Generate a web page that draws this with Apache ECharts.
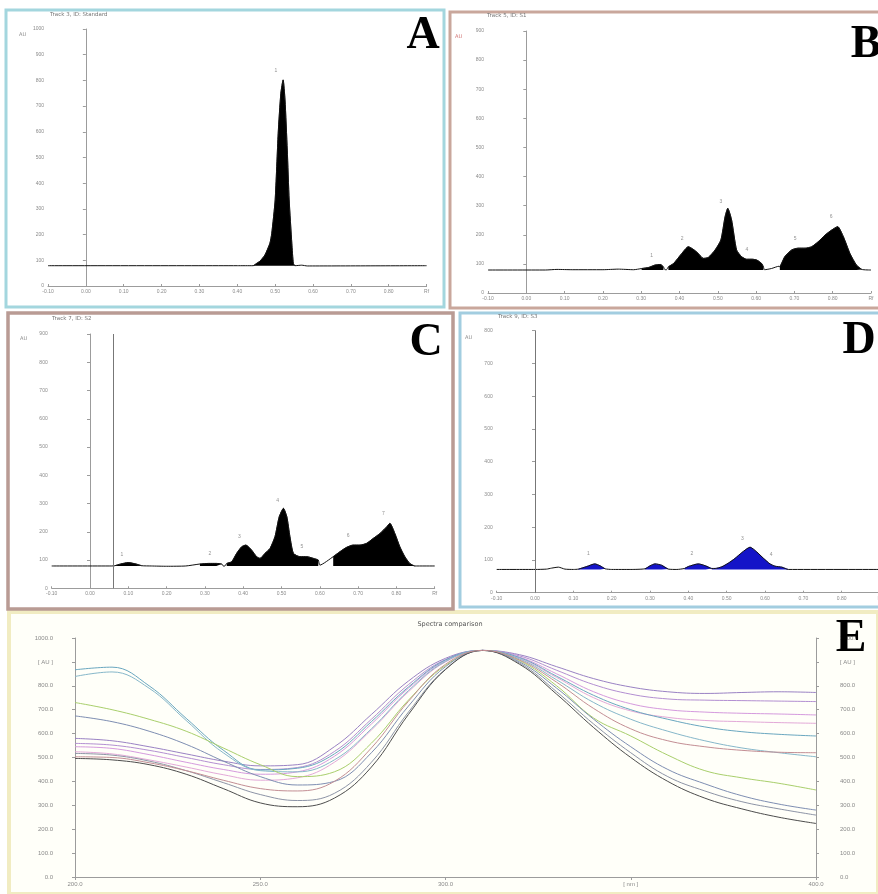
<!DOCTYPE html>
<html>
<head>
<meta charset="utf-8">
<script src="https://cdn.jsdelivr.net/npm/echarts@6/dist/echarts.min.js"></script>
<style>
  html, body { margin: 0; padding: 0; background: #fff; }
  #chart { width: 878px; height: 894px; }
</style>
</head>
<body>
<div id="chart"></div>
<script>
// ---- Densitogram tracks: [Rf, AU] ----
const trackA = [[-0.10,79],[0.40,79],[0.442,79],[0.451,88],[0.460,97],[0.473,121],[0.486,166],[0.491,205],[0.500,335],[0.508,594],[0.515,750],[0.521,802],[0.526,724],[0.532,529],[0.537,335],[0.544,166],[0.548,88],[0.552,79],[0.570,81],[0.585,78],[0.90,79]];
const segmentsA = [[0.442, 0.552]];
const peaksA = [[0.502, 838, '1']];

const trackB = [[-0.10,79],[0.05,79],[0.08,81],[0.12,80],[0.20,80],[0.24,82],[0.28,80],[0.301,84],[0.320,88],[0.336,96],[0.350,98],[0.358,90],[0.362,80],[0.366,80],[0.371,90],[0.385,102],[0.406,136],[0.423,159],[0.436,150],[0.449,136],[0.462,119],[0.475,122],[0.493,148],[0.508,182],[0.519,262],[0.526,291],[0.536,251],[0.549,148],[0.562,125],[0.575,116],[0.590,116],[0.602,113],[0.614,102],[0.619,90],[0.622,80],[0.640,84],[0.660,92],[0.662,90],[0.675,125],[0.693,148],[0.710,154],[0.728,154],[0.745,159],[0.762,176],[0.780,199],[0.797,216],[0.813,228],[0.828,193],[0.845,136],[0.862,96],[0.876,81],[0.90,79]];
const segmentsB = [[0.301, 0.358], [0.371, 0.619], [0.662, 0.876]];
const peaksB = [[0.327,127,'1'],[0.407,186,'2'],[0.508,315,'3'],[0.576,150,'4'],[0.702,186,'5'],[0.796,262,'6']];

const trackC = [[-0.10,79],[0.057,79],[0.065,80],[0.080,86],[0.100,91],[0.120,86],[0.135,80],[0.160,79],[0.200,78],[0.250,79],[0.287,86],[0.310,88],[0.330,88],[0.344,86],[0.348,79],[0.352,79],[0.357,88],[0.370,94],[0.383,124],[0.396,147],[0.407,153],[0.422,135],[0.435,112],[0.444,106],[0.457,124],[0.470,141],[0.483,183],[0.494,253],[0.505,283],[0.514,253],[0.522,183],[0.531,124],[0.548,112],[0.566,112],[0.583,106],[0.596,100],[0.600,82],[0.635,112],[0.653,130],[0.670,145],[0.687,153],[0.705,153],[0.722,159],[0.740,177],[0.757,194],[0.775,218],[0.783,230],[0.796,194],[0.809,147],[0.822,112],[0.835,88],[0.848,79],[0.90,79]];
const segmentsC = [[0.065, 0.135], [0.287, 0.344], [0.357, 0.596], [0.635, 0.848]];
const peaksC = [[0.083,118,'1'],[0.313,124,'2'],[0.390,183,'3'],[0.490,312,'4'],[0.553,147,'5'],[0.674,185,'6'],[0.766,265,'7']];

const trackD = [[-0.10,71],[0.000,71],[0.030,72],[0.043,75],[0.061,78],[0.078,72],[0.100,71],[0.113,72],[0.135,80],[0.156,88],[0.170,82],[0.183,73],[0.200,71],[0.250,71],[0.287,73],[0.300,82],[0.313,88],[0.330,84],[0.348,72],[0.370,71],[0.390,74],[0.400,80],[0.426,88],[0.445,82],[0.461,74],[0.470,74],[0.487,79],[0.504,90],[0.522,105],[0.539,122],[0.561,139],[0.578,125],[0.596,105],[0.613,88],[0.626,81],[0.644,78],[0.661,71],[0.90,71]];
const segmentsD = [[0.113, 0.183], [0.287, 0.348], [0.390, 0.461], [0.461, 0.661]];
const peaksD = [[0.139,120,'1'],[0.409,120,'2'],[0.541,166,'3'],[0.616,115,'4']];

// ---- Spectra comparison: AU over wavelength (nm) ----
const wavelengths = [200,210,220,230,240,250,260,270,280,290,300,310,320,330,340,350,360,370,380,390,400];
const spectrum1  = [580,570,545,515,485,465,470,545,680,820,915,948,930,880,830,795,775,768,772,775,772];
const spectrum2  = [559,552,530,500,470,450,458,525,660,805,910,948,925,865,805,765,745,740,738,736,734];
const spectrum3  = [545,538,512,480,450,430,440,505,640,790,905,948,920,850,775,725,700,690,685,682,678];
const spectrum4  = [524,515,490,460,428,405,415,480,615,775,900,948,915,835,750,695,668,655,650,646,643];
const spectrum5  = [867,878,800,664,531,448,455,515,650,795,908,948,918,840,760,700,660,628,608,597,590];
const spectrum6  = [839,858,790,655,520,445,440,490,620,780,902,948,912,825,730,660,610,570,540,520,503];
const spectrum7  = [730,700,660,610,540,470,420,440,560,740,885,948,905,800,665,590,510,445,415,392,364];
const spectrum8  = [674,650,610,555,485,420,385,400,520,715,880,948,900,790,660,545,450,390,340,305,280];
const spectrum9  = [517,510,485,445,395,345,320,350,480,690,870,948,895,775,640,520,420,360,315,285,259];
const spectrum10 = [496,490,470,430,370,310,294,330,460,680,868,948,890,765,625,500,400,330,285,250,224];
const spectrum11 = [503,500,478,445,405,370,360,400,540,735,890,948,908,815,705,620,570,545,530,522,520];
const spectra = [spectrum1,spectrum2,spectrum3,spectrum4,spectrum5,spectrum6,spectrum7,spectrum8,spectrum9,spectrum10,spectrum11];
const spectrumColors = ['#9a82c4','#b38fd2','#d59ade','#e3a9d8','#6aa7c0','#86b7ca','#a9cf6c','#7e8eb2','#8d94a6','#4d4d4d','#c38e94'];

const chart = echarts.init(document.getElementById('chart'), null, { renderer: 'canvas' });

const axisGray = '#9c9c9c';
const labelGray = '#8a8a8a';

const rfLabel = v => (v > 0.85 ? 'Rf' : (Math.abs(v) < 1e-9 ? '0.00' : v.toFixed(2)));

function rfAxis(gi) {
  return {
    gridIndex: gi, type: 'value', min: -0.1, max: 0.9, interval: 0.1,
    axisLine: { show: true, onZero: false, lineStyle: { color: axisGray, width: 1 } },
    axisTick: { show: true, length: 2, inside: true, lineStyle: { color: axisGray } },
    axisLabel: { fontSize: 5, color: labelGray, margin: 3, formatter: rfLabel },
    splitLine: { show: false }
  };
}
function auAxis(gi, max) {
  return {
    gridIndex: gi, type: 'value', min: 0, max: max, interval: 100,
    axisLine: { show: true, lineStyle: { color: axisGray, width: 1 } },
    axisTick: { show: true, length: 3, lineStyle: { color: axisGray } },
    axisLabel: { fontSize: 5, color: labelGray, margin: 4, formatter: v => String(v) },
    splitLine: { show: false }
  };
}

function trackSeries(gi, track, segments, peaks, fillColor, base, markX) {
  const out = [];
  const line = {
    type: 'line', xAxisIndex: gi, yAxisIndex: gi, data: track,
    symbol: 'none', smooth: 0.2, lineStyle: { color: '#111', width: 1 }, z: 4, silent: true
  };
  if (markX) {
    line.markLine = {
      symbol: 'none', silent: true, label: { show: false },
      lineStyle: { color: '#777', width: 1, type: 'solid' },
      data: markX.map(v => ({ xAxis: v }))
    };
  }
  out.push(line);
  segments.forEach(([a, b]) => {
    out.push({
      type: 'line', xAxisIndex: gi, yAxisIndex: gi,
      data: track.filter(p => p[0] >= a - 1e-9 && p[0] <= b + 1e-9),
      symbol: 'none', smooth: 0.2, silent: true,
      lineStyle: { width: 0.6, color: fillColor },
      areaStyle: { color: fillColor, opacity: 1, origin: base }, z: 3
    });
  });
  out.push({
    type: 'scatter', xAxisIndex: gi, yAxisIndex: gi, symbolSize: 1, silent: true,
    itemStyle: { color: 'rgba(0,0,0,0)' },
    data: peaks.map(p => ({ value: [p[0], p[1]], label: { show: true, formatter: p[2] } })),
    label: { position: 'inside', fontSize: 5, color: '#777' }, z: 5
  });
  return out;
}

const series = [].concat(
  trackSeries(0, trackA, segmentsA, peaksA, '#000', 79),
  trackSeries(1, trackB, segmentsB, peaksB, '#000', 79),
  trackSeries(2, trackC, segmentsC, peaksC, '#000', 79, [0.057]),
  trackSeries(3, trackD, segmentsD, peaksD, '#1414c8', 71, [0.0])
);
spectra.forEach((s, i) => {
  series.push({
    type: 'line', xAxisIndex: 4, yAxisIndex: 4, name: 'Spectrum ' + (i + 1),
    data: wavelengths.map((w, k) => [w, s[k]]),
    symbol: 'none', smooth: 0.4, silent: true,
    lineStyle: { color: spectrumColors[i], width: 1 }
  });
});

const panelText = (text, x, y, size, color, extra) => Object.assign({
  type: 'text', silent: true, z: 10,
  style: Object.assign({ text: text, x: x, y: y, fontSize: size, fontFamily: 'DejaVu Sans', fill: color,
                         align: 'left', verticalAlign: 'middle', textAlign: 'left', textVerticalAlign: 'middle' }, extra || {})
});
const letter = (t, x, y) => ({
  type: 'text', silent: true, z: 10,
  style: { text: t, x: x, y: y, fontSize: 46, fontWeight: 'bold', fontFamily: 'Liberation Serif', fill: '#000',
           align: 'center', verticalAlign: 'middle', textAlign: 'center', textVerticalAlign: 'middle' }
});
const frame = (x, y, w, h, stroke, lw, fill) => ({
  type: 'rect', silent: true, z: 0,
  shape: { x: x, y: y, width: w, height: h },
  style: { fill: fill || 'none', stroke: stroke, lineWidth: lw }
});

const option = {
  animation: false,
  backgroundColor: '#fff',
  grid: [
    { left: 48, top: 29, width: 378.6, height: 257, containLabel: false, outerBoundsMode: 'none' },
    { left: 488, top: 31, width: 383, height: 262, containLabel: false, outerBoundsMode: 'none' },
    { left: 51.7, top: 334, width: 383, height: 254.3, containLabel: false, outerBoundsMode: 'none' },
    { left: 496.7, top: 330.7, width: 383.3, height: 262, containLabel: false, outerBoundsMode: 'none' },
    { left: 75, top: 638, width: 741, height: 239, containLabel: false, outerBoundsMode: 'none' }
  ],
  xAxis: [
    rfAxis(0), rfAxis(1), rfAxis(2), rfAxis(3),
    {
      gridIndex: 4, type: 'value', min: 200, max: 400, interval: 50,
      axisLine: { show: true, lineStyle: { color: axisGray } },
      axisTick: { show: true, length: 3, lineStyle: { color: axisGray } },
      axisLabel: { fontSize: 6, color: labelGray, margin: 4, formatter: v => (v === 350 ? '[ nm ]' : v.toFixed(1)) },
      splitLine: { show: false }
    },
    {
      gridIndex: 4, type: 'value', position: 'top', min: 200, max: 400, interval: 50,
      axisLine: { show: true, lineStyle: { color: axisGray } },
      axisTick: { show: true, inside: true, length: 3, lineStyle: { color: axisGray } },
      axisLabel: { show: false }, splitLine: { show: false }
    }
  ],
  yAxis: [
    auAxis(0, 1000), auAxis(1, 900), auAxis(2, 900), auAxis(3, 800),
    {
      gridIndex: 4, type: 'value', min: 0, max: 1000, interval: 100,
      axisLine: { show: true, lineStyle: { color: axisGray } },
      axisTick: { show: true, length: 3, lineStyle: { color: axisGray } },
      axisLabel: { fontSize: 6, color: labelGray, margin: 22, formatter: v => (v === 900 ? '[ AU ]' : v.toFixed(1)) },
      splitLine: { show: false }
    },
    {
      gridIndex: 4, type: 'value', position: 'right', min: 0, max: 1000, interval: 100,
      axisLine: { show: true, lineStyle: { color: axisGray } },
      axisTick: { show: true, length: 3, lineStyle: { color: axisGray } },
      axisLabel: { fontSize: 6, color: labelGray, margin: 24, formatter: v => (v === 900 ? '[ AU ]' : v.toFixed(1)) },
      splitLine: { show: false }
    }
  ],
  series: series,
  graphic: [
    frame(9, 612, 869, 282, '#f1ecc2', 4, '#fffff9'),
    frame(6, 10, 438, 297, '#a3d6de', 3),
    frame(450, 12, 430, 296, '#c9a79c', 3),
    frame(8, 313, 445, 296, '#b99b94', 3.5),
    frame(460, 313, 420, 294, '#a2cde0', 3),
    letter('A', 423, 36),
    letter('B', 866, 45),
    letter('C', 426, 343),
    letter('D', 859, 341),
    letter('E', 851, 639),
    panelText('Track 3, ID: Standard', 50, 15, 5.5, '#777'),
    panelText('Track 5, ID: S1', 487, 16, 5.5, '#777'),
    panelText('Track 7, ID: S2', 52, 319, 5.5, '#777'),
    panelText('Track 9, ID: S3', 498, 317, 5.5, '#777'),
    panelText('AU', 19, 35, 5, '#888'),
    panelText('AU', 455, 37, 5, '#d07070'),
    panelText('AU', 20, 339, 5, '#888'),
    panelText('AU', 465, 338, 5, '#888'),
    panelText('Spectra comparison', 450, 624, 6.5, '#555', { align: 'center', textAlign: 'center' })
  ]
};

chart.setOption(option);
</script>
</body>
</html>
